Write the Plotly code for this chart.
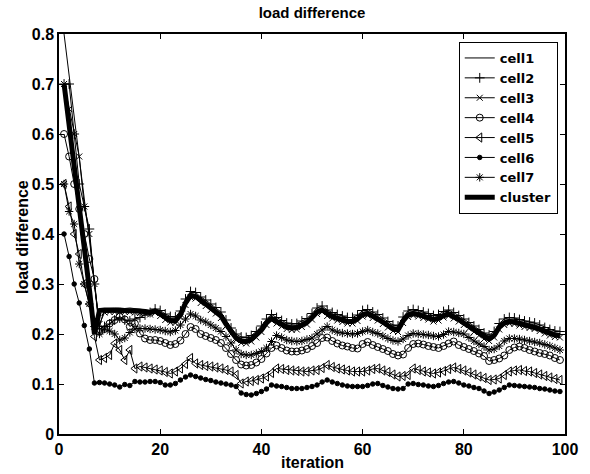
import plotly.graph_objects as go

iterations = list(range(1, 100))

cell1 = [0.800,0.715,0.630,0.550,0.470,0.390,0.300,0.215,0.251,0.252,
0.252,0.252,0.251,0.252,0.251,0.250,0.249,0.247,0.250,0.244,
0.236,0.231,0.230,0.242,0.266,0.281,0.279,0.270,0.264,0.256,
0.249,0.240,0.224,0.208,0.196,0.190,0.189,0.193,0.201,0.212,
0.226,0.235,0.229,0.223,0.218,0.216,0.217,0.222,0.227,0.237,
0.248,0.252,0.244,0.239,0.235,0.232,0.229,0.229,0.234,0.243,
0.245,0.240,0.235,0.228,0.221,0.214,0.212,0.230,0.242,0.245,
0.243,0.240,0.237,0.233,0.235,0.241,0.244,0.239,0.233,0.226,
0.219,0.212,0.205,0.198,0.194,0.201,0.217,0.226,0.229,0.228,
0.225,0.222,0.220,0.218,0.214,0.209,0.205,0.202,0.201]

cell2 = [0.700,0.700,0.600,0.500,0.455,0.410,0.300,0.210,0.215,0.220,
0.228,0.232,0.228,0.226,0.230,0.233,0.238,0.243,0.250,0.247,
0.240,0.235,0.234,0.246,0.270,0.285,0.283,0.274,0.268,0.260,
0.253,0.244,0.228,0.212,0.200,0.194,0.193,0.197,0.205,0.216,
0.230,0.239,0.233,0.227,0.222,0.220,0.221,0.226,0.231,0.241,
0.252,0.256,0.248,0.243,0.239,0.236,0.233,0.233,0.238,0.247,
0.249,0.244,0.239,0.232,0.225,0.218,0.216,0.234,0.246,0.249,
0.247,0.244,0.241,0.237,0.239,0.245,0.248,0.243,0.237,0.230,
0.223,0.216,0.209,0.202,0.198,0.205,0.221,0.230,0.233,0.232,
0.229,0.226,0.224,0.222,0.218,0.213,0.209,0.206,0.205]

cell3 = [0.700,0.650,0.600,0.555,0.455,0.400,0.300,0.220,0.243,0.244,
0.244,0.244,0.244,0.244,0.243,0.242,0.241,0.239,0.242,0.236,
0.228,0.223,0.222,0.234,0.258,0.273,0.271,0.262,0.256,0.248,
0.241,0.232,0.216,0.200,0.188,0.182,0.181,0.185,0.193,0.204,
0.218,0.227,0.221,0.215,0.210,0.208,0.209,0.214,0.219,0.229,
0.240,0.244,0.236,0.231,0.227,0.224,0.221,0.221,0.226,0.235,
0.237,0.232,0.227,0.220,0.213,0.206,0.204,0.222,0.234,0.237,
0.235,0.232,0.229,0.225,0.227,0.233,0.236,0.231,0.225,0.218,
0.211,0.204,0.197,0.190,0.186,0.193,0.209,0.218,0.221,0.220,
0.217,0.214,0.212,0.210,0.206,0.201,0.197,0.194,0.193]

cell4 = [0.600,0.555,0.500,0.450,0.400,0.350,0.310,0.205,0.210,0.221,
0.228,0.235,0.229,0.215,0.221,0.201,0.191,0.188,0.188,0.186,
0.182,0.178,0.180,0.187,0.200,0.214,0.210,0.200,0.196,0.192,
0.188,0.182,0.172,0.160,0.148,0.139,0.137,0.138,0.143,0.150,
0.161,0.172,0.177,0.172,0.167,0.165,0.165,0.167,0.170,0.176,
0.182,0.192,0.193,0.186,0.181,0.177,0.175,0.172,0.171,0.180,
0.184,0.178,0.174,0.170,0.166,0.160,0.157,0.159,0.172,0.180,
0.181,0.179,0.176,0.174,0.172,0.176,0.181,0.185,0.178,0.174,
0.170,0.166,0.161,0.156,0.146,0.148,0.151,0.157,0.168,0.173,
0.175,0.172,0.168,0.165,0.162,0.160,0.157,0.152,0.148]

cell5 = [0.500,0.455,0.400,0.360,0.300,0.260,0.195,0.148,0.152,0.158,
0.181,0.168,0.148,0.168,0.131,0.135,0.133,0.131,0.129,0.127,
0.124,0.121,0.125,0.131,0.140,0.152,0.141,0.138,0.136,0.135,
0.133,0.131,0.128,0.125,0.118,0.101,0.105,0.106,0.108,0.111,
0.115,0.122,0.131,0.130,0.128,0.127,0.126,0.125,0.125,0.127,
0.128,0.132,0.138,0.134,0.131,0.129,0.127,0.125,0.125,0.125,
0.127,0.130,0.131,0.127,0.124,0.119,0.115,0.116,0.118,0.131,
0.128,0.125,0.123,0.121,0.123,0.126,0.130,0.133,0.130,0.127,
0.123,0.119,0.115,0.112,0.108,0.109,0.111,0.118,0.125,0.127,
0.128,0.126,0.125,0.122,0.119,0.116,0.113,0.110,0.108]

cell6 = [0.400,0.355,0.300,0.262,0.217,0.170,0.102,0.103,0.102,0.100,
0.098,0.094,0.099,0.097,0.105,0.104,0.104,0.105,0.105,0.103,
0.098,0.098,0.101,0.108,0.114,0.118,0.115,0.112,0.109,0.107,
0.104,0.102,0.100,0.098,0.095,0.082,0.079,0.078,0.081,0.085,
0.090,0.098,0.096,0.095,0.093,0.091,0.091,0.091,0.093,0.095,
0.098,0.104,0.108,0.104,0.101,0.098,0.096,0.095,0.095,0.095,
0.097,0.100,0.101,0.097,0.094,0.091,0.090,0.091,0.100,0.101,
0.099,0.098,0.096,0.095,0.097,0.101,0.104,0.105,0.102,0.098,
0.096,0.093,0.091,0.086,0.081,0.084,0.088,0.093,0.098,0.097,
0.096,0.095,0.094,0.093,0.091,0.090,0.088,0.086,0.085]

cell7 = [0.500,0.445,0.420,0.340,0.300,0.260,0.215,0.200,0.210,0.206,
0.200,0.188,0.192,0.203,0.210,0.211,0.211,0.210,0.209,0.208,
0.206,0.204,0.207,0.218,0.230,0.240,0.236,0.228,0.224,0.218,
0.212,0.205,0.195,0.182,0.168,0.160,0.158,0.158,0.161,0.165,
0.172,0.185,0.197,0.193,0.188,0.186,0.185,0.186,0.189,0.192,
0.200,0.208,0.215,0.208,0.204,0.202,0.201,0.200,0.201,0.205,
0.208,0.204,0.201,0.196,0.191,0.187,0.185,0.190,0.197,0.201,
0.200,0.199,0.198,0.196,0.195,0.199,0.205,0.204,0.202,0.200,
0.193,0.186,0.180,0.175,0.168,0.170,0.176,0.186,0.191,0.191,
0.190,0.188,0.186,0.184,0.182,0.179,0.176,0.172,0.168]

cluster = [0.700,0.620,0.530,0.450,0.370,0.290,0.200,0.247,0.248,0.248,
0.248,0.248,0.248,0.248,0.247,0.246,0.245,0.243,0.246,0.240,
0.232,0.227,0.226,0.238,0.262,0.277,0.275,0.266,0.260,0.252,
0.245,0.236,0.220,0.204,0.192,0.186,0.185,0.189,0.197,0.208,
0.222,0.231,0.225,0.219,0.214,0.212,0.213,0.218,0.223,0.233,
0.244,0.248,0.240,0.235,0.231,0.228,0.225,0.225,0.230,0.239,
0.241,0.236,0.231,0.224,0.217,0.210,0.208,0.226,0.238,0.241,
0.239,0.236,0.233,0.229,0.231,0.237,0.240,0.235,0.229,0.222,
0.215,0.208,0.201,0.194,0.190,0.197,0.213,0.222,0.225,0.224,
0.221,0.218,0.216,0.214,0.210,0.205,0.201,0.198,0.197]

x_ticks = [0, 20, 40, 60, 80, 100]
y_ticks = [0, 0.1, 0.2, 0.3, 0.4, 0.5, 0.6, 0.7, 0.8]
y_tick_text = ["0", "0.1", "0.2", "0.3", "0.4", "0.5", "0.6", "0.7", "0.8"]

FONT = "Liberation Sans, Arial, Helvetica, sans-serif"
LEGEND_FONT = "DejaVu Sans, Liberation Sans, sans-serif"

series = [
    ("cell1", cell1, None, 0),
    ("cell2", cell2, "cross-thin-open", 7),
    ("cell3", cell3, "x-thin-open", 6),
    ("cell4", cell4, "circle-open", 7),
    ("cell5", cell5, "triangle-left-open", 8),
    ("cell6", cell6, "circle", 4.5),
    ("cell7", cell7, "asterisk-open", 7),
]

fig = go.Figure()
for name, vals, sym, size in series:
    if sym is None:
        fig.add_trace(go.Scatter(x=iterations, y=vals, name=name, mode="lines",
                                 line=dict(color="black", width=1)))
    else:
        fig.add_trace(go.Scatter(x=iterations, y=vals, name=name, mode="lines+markers",
                                 line=dict(color="black", width=1),
                                 marker=dict(symbol=sym, size=size, color="black",
                                             line=dict(color="black", width=1))))
fig.add_trace(go.Scatter(x=iterations, y=cluster, name="cluster", mode="lines",
                         line=dict(color="black", width=5)))

axis_common = dict(
    showgrid=False, zeroline=False, showline=True, linecolor="black", linewidth=1.5,
    mirror="ticks", ticks="inside", ticklen=5, tickwidth=1, tickcolor="black",
    tickfont=dict(family=FONT, size=16, color="black", weight="bold"),
)

fig.update_layout(
    width=590, height=474,
    margin=dict(l=59, r=20, t=34, b=40),
    paper_bgcolor="white", plot_bgcolor="white",
    title=dict(text="load difference", x=0.5, xref="paper", y=1 - 13 / 474, yref="container",
               xanchor="center", yanchor="middle",
               font=dict(family=FONT, size=15, color="black", weight="bold")),
    xaxis=dict(range=[0, 100], tickvals=x_ticks, **axis_common),
    yaxis=dict(range=[0, 0.8], tickvals=y_ticks, ticktext=y_tick_text, **axis_common),
    legend=dict(x=0.79, y=0.98, xanchor="left", yanchor="top",
                bordercolor="black", borderwidth=1, bgcolor="white",
                font=dict(family=LEGEND_FONT, size=13, color="black", weight="bold")),
    annotations=[
        dict(text="iteration", x=0.5, y=-0.07, xref="paper", yref="paper",
             xanchor="center", yanchor="middle", showarrow=False,
             font=dict(family=FONT, size=16, color="black", weight="bold")),
        dict(text="load difference", x=-0.073, y=0.4925, xref="paper", yref="paper",
             xanchor="center", yanchor="middle", showarrow=False, textangle=-90,
             font=dict(family=FONT, size=16, color="black", weight="bold")),
    ],
)

fig.write_html("out.html")
